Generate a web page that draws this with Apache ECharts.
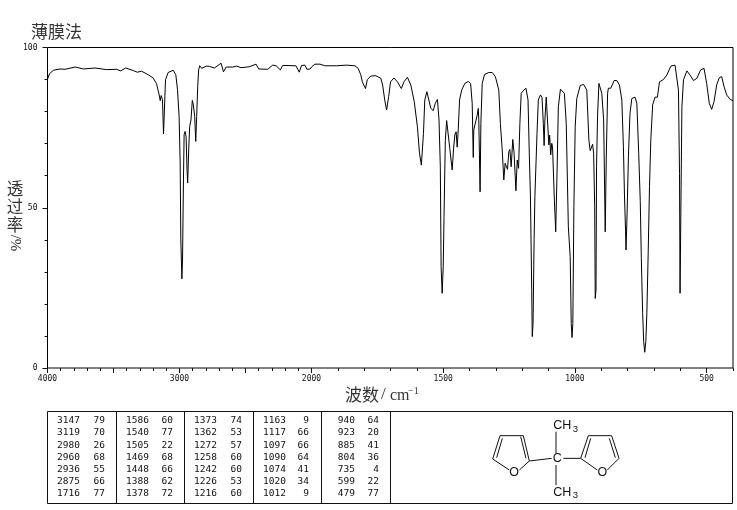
<!DOCTYPE html>
<html><head><meta charset="utf-8">
<style>html,body{margin:0;padding:0;background:#fff}#c{width:737px;height:510px}</style>
<script src="https://cdn.jsdelivr.net/npm/echarts@6/dist/echarts.min.js"></script>
</head><body><div id="c"></div>
<script>
const wavenumbers=[4000,3985,3955,3905,3867,3790,3728,3640,3552,3476,3446,3408,3350,3320,3287,3237,3200,3174,3154,3146,3139,3129,3121,3116,3106,3086,3048,3028,3015,3003,2995,2990,2982,2977,2970,2965,2958,2950,2943,2938,2930,2923,2913,2903,2895,2885,2877,2870,2862,2855,2847,2832,2797,2772,2735,2685,2667,2647,2597,2567,2534,2470,2420,2400,2332,2294,2268,2236,2218,2118,2093,2075,2050,2035,2010,2000,1987,1968,1949,1905,1867,1835,1823,1813,1807,1795,1788,1775,1756,1737,1730,1722,1715,1707,1700,1687,1674,1659,1649,1636,1623,1610,1598,1590,1583,1575,1570,1562,1555,1547,1538,1530,1522,1516,1511,1508,1504,1500,1497,1492,1487,1480,1475,1468,1466,1461,1456,1451,1447,1443,1438,1430,1418,1405,1396,1390,1386,1384,1378,1371,1367,1365,1360,1357,1352,1343,1327,1314,1302,1289,1283,1276,1270,1265,1261,1256,1251,1247,1242,1236,1231,1224,1219,1214,1209,1204,1194,1186,1178,1173,1169,1164,1162,1159,1155,1152,1144,1139,1131,1125,1120,1117,1114,1109,1104,1099,1096,1092,1088,1085,1078,1073,1068,1063,1055,1048,1040,1033,1025,1018,1014,1011,1008,1004,999,993,980,967,955,947,942,938,933,929,925,923,920,918,914,909,903,898,891,885,881,876,873,864,851,841,831,822,816,812,808,806,802,797,791,784,772,765,758,752,748,743,739,735,731,727,722,717,712,705,696,687,679,664,651,636,620,613,607,603,601,598,594,588,575,563,550,537,523,510,500,490,481,472,462,452,443,434,424,411,400];
const transmittance=[90.1,91.8,92.9,93.3,93.2,93.9,93.3,93.6,93.1,93.2,92.7,93.6,92.8,92.3,92.6,91.5,90.5,88.7,85.2,83.4,85,83.7,73,73,89.9,92.2,92.9,91.5,86.8,78.5,64,40,27.8,34,58.7,72.8,73.8,72.2,61.9,57.7,68.6,75.4,77.4,83.5,82.1,78.5,70.7,78.5,87.8,93,94.3,93.5,94.2,94.1,93.6,95.1,92.4,93.9,93.9,94.2,93.7,94,94.8,93.3,93.2,94.5,94.3,93,94.4,94.3,92.3,94.4,94.5,93.2,93.3,93.9,94.8,94.8,94.3,94.3,94.5,94.3,93.5,91.5,89.3,87.2,90,91.1,91.2,90.4,88.3,83.6,80.5,84.7,89.3,90.5,89.3,87.2,89.3,90.7,88.3,83.1,75.3,67,63.3,73.2,83.6,86.2,86.1,81,80.3,82.6,83.8,77.4,62.8,31.6,23.3,31.6,47,71,77.2,77.2,68.5,63.3,61.8,68,72.7,73.7,68.9,74.3,83.6,86.7,88.8,89.4,88.8,82.6,65.7,74.3,74.8,78.9,81,77.4,55,76.3,88.8,91.6,92.2,92.2,90.9,86.7,76.3,68,58.7,63.9,63,62,67.5,68.2,62.8,71.3,67,55.3,64.9,62.3,76.3,85.7,86.7,87.3,83.6,65.9,54,24.3,9.8,13.9,40,53.5,73.2,83.6,85.2,84.5,76.3,69.4,77.4,84.5,84,69.6,72.7,66.5,70.1,69,52.4,42.5,60.7,81.5,87,87.3,85.7,76.3,44,34.7,13.9,9.5,13.9,50,75.3,84.1,88.1,88.5,86.7,71.1,67.8,67.6,69.8,67,50.3,21.7,24.3,62.8,78.9,88.8,89.4,85.7,77.4,42.5,65.9,85.7,87.3,87.3,89.7,89.7,88.3,83.6,69,54,43,36.8,48.3,65.9,79.5,84.1,84.5,82.6,67,51.9,34.2,17,8.2,4.9,8.2,17,35.8,56.6,71.1,82.1,84.5,84.5,89.3,90,91.4,94.2,94.5,95,86.7,60.7,23.3,48.3,81.5,89.9,92.7,91.4,89.7,90.4,93,93.5,88.8,82.6,80.7,83.1,88.3,90.6,90.9,87.8,85.2,83.8,83.4];
const peakWavenumbers=[[3147,3119,2980,2960,2936,2875,1716],[1586,1540,1505,1469,1448,1388,1378],[1373,1362,1272,1258,1242,1226,1216],[1163,1117,1097,1090,1074,1020,1012],[940,923,885,804,735,599,479]];
const peakValues=[[79,70,26,68,55,66,77],[60,77,22,68,66,62,72],[74,53,57,60,60,53,60],[9,66,66,64,41,34,9],[64,20,41,36,4,22,77]];
const leftTickLabels=[4000,3000,2000];
const rightTickLabels=[1500,1000,500];
const rightMajorTicks=[2000,1500,1000,500];
const yTickLabels=[0,50,100];

const pairs=wavenumbers.map((w,i)=>[w,transmittance[i]]);
const mono='"DejaVu Sans Mono",monospace';
const cjk='"Noto Sans CJK SC",sans-serif';
const ink='#111';
const X0=47.5,XM=311.5,X1=733,Y0=47.5,Y1=368;
const line=(x1,y1,x2,y2,w)=>({type:'line',shape:{x1,y1,x2,y2},style:{stroke:ink,lineWidth:w||1},silent:true});
const text=(x,y,t,o)=>({type:'text',x,y,silent:true,style:Object.assign({text:t,fill:ink,font:'9.5px '+mono,align:'left',verticalAlign:'middle'},o||{})});

const gfx=[];
gfx.push({type:'rect',shape:{x:X0,y:Y0,width:X1-X0,height:Y1-Y0},style:{fill:'none',stroke:'#000',lineWidth:1},silent:true});
const head={font:'17px '+cjk,fill:'#333'};
gfx.push(text(31,32,'薄膜法',head));
const sideTitle={font:'16.5px '+cjk,fill:'#333',align:'center'};
gfx.push(text(15,189,'透',sideTitle),text(15,207,'过',sideTitle),text(15,225,'率',sideTitle));
gfx.push(Object.assign(text(15,243,'/%',{font:'15px "Liberation Serif",serif',fill:'#333',align:'center'}),{rotation:-Math.PI/2}));
gfx.push(text(345,395,'波数',{font:'17px '+cjk,fill:'#333'}));
gfx.push(text(381,395,'/',{font:'17px "Liberation Serif",serif',fill:'#333'}));
gfx.push(text(390,396,'cm',{font:'16px "Liberation Serif",serif',fill:'#333'}));
gfx.push(text(408,391,'−1',{font:'10px "Liberation Serif",serif',fill:'#333'}));

// peak table
const TT=411.5,TB=503.5;
gfx.push({type:'rect',shape:{x:47.5,y:TT,width:685,height:TB-TT},style:{fill:'none',stroke:ink,lineWidth:1},silent:true});
[116.5,184.5,253.5,321.5,390.5].forEach(x=>gfx.push(line(x,TT,x,TB)));
const wnRight=[80,149,217,286,355],valRight=[105,173,242,309,379];
peakWavenumbers.forEach((col,c)=>col.forEach((w,r)=>{
  const y=420.8+r*12.2;
  gfx.push(text(wnRight[c],y,String(w),{align:'right'}));
  gfx.push(text(valRight[c],y,String(peakValues[c][r]),{align:'right'}));
}));

// structure drawing
const px=x=>470+x/3,py=y=>405+y/3;
const bond=(a,b,c,d)=>line(px(a),py(b),px(c),py(d));
[[148,195,178,168],[178,168,160,92],[168,160,152,95],[160,92,90,92],[90,92,68,162],[97,100,80,158],[68,162,118,195],
 [178,168,245,160],[280,160,332,160],
 [332,160,355,92],[345,158,362,100],[355,92,425,92],[425,92,447,160],[418,100,436,158],[447,160,412,195],[332,160,382,195],
 [258,80,258,145],[258,180,258,240]].forEach(b=>gfx.push(bond(b[0],b[1],b[2],b[3])));
const atom={font:'12.5px "Liberation Sans",sans-serif',align:'center'};
const atomL=Object.assign({},atom,{align:'left'});
const sub=Object.assign({},atom,{align:'left',font:'9.5px "Liberation Sans",sans-serif'});
gfx.push(text(px(132),py(203),'O',atom),text(px(397),py(203),'O',atom),text(px(262),py(162),'C',atom));
gfx.push(text(px(250),py(63),'CH',atomL),text(px(308),py(72),'3',sub));
gfx.push(text(px(250),py(262),'CH',atomL),text(px(308),py(270),'3',sub));

const plain=v=>String(v);
const tickFont={fontFamily:'"DejaVu Sans Mono",monospace',fontSize:8,color:ink,formatter:plain};
const hair={lineStyle:{color:ink,width:1}};
function xAxis(grid,min,max,labels,majors){
  return [
   {type:'value',gridIndex:grid,min,max,inverse:true,interval:100,position:'bottom',splitLine:{show:false},
    axisLine:{show:false,onZero:false},axisTick:Object.assign({show:true,length:3},hair),axisLabel:{show:false}},
   {type:'value',gridIndex:grid,min,max,inverse:true,position:'bottom',splitLine:{show:false},
    axisLine:{show:false,onZero:false},axisTick:Object.assign({show:true,length:5,customValues:majors},hair),
    axisLabel:Object.assign({show:true,customValues:labels,hideOverlap:false,showMinLabel:true,showMaxLabel:true,margin:7},tickFont)}
  ];
}
const option={
  animation:false,backgroundColor:'#fff',
  grid:[{left:X0,top:Y0,width:XM-X0,height:Y1-Y0},{left:XM,top:Y0,width:X1-XM,height:Y1-Y0}],
  xAxis:[...xAxis(0,2000,4000,leftTickLabels,[4000,3500,3000,2500,2000]),...xAxis(1,400,2000,rightTickLabels,rightMajorTicks)],
  yAxis:[
   {type:'value',gridIndex:0,position:'left',min:0,max:100,interval:10,splitLine:{show:false},axisLine:{show:false,onZero:false},axisTick:Object.assign({show:true,length:3},hair),axisLabel:{show:false}},
   {type:'value',gridIndex:0,position:'left',min:0,max:100,interval:50,splitLine:{show:false},axisLine:{show:false,onZero:false},axisTick:Object.assign({show:true,length:5},hair),axisLabel:Object.assign({show:true,customValues:yTickLabels,margin:10},tickFont)},
   {type:'value',gridIndex:1,min:0,max:100,show:false}
  ],
  series:[
   {type:'line',xAxisIndex:0,yAxisIndex:0,data:pairs.filter(p=>p[0]>=2000),showSymbol:false,lineStyle:{color:'#000',width:1},silent:true},
   {type:'line',xAxisIndex:2,yAxisIndex:2,data:pairs.filter(p=>p[0]<=2000),showSymbol:false,lineStyle:{color:'#000',width:1},silent:true}
  ],
  graphic:gfx
};
echarts.init(document.getElementById('c'),null,{renderer:'canvas'}).setOption(option);
</script></body></html>
